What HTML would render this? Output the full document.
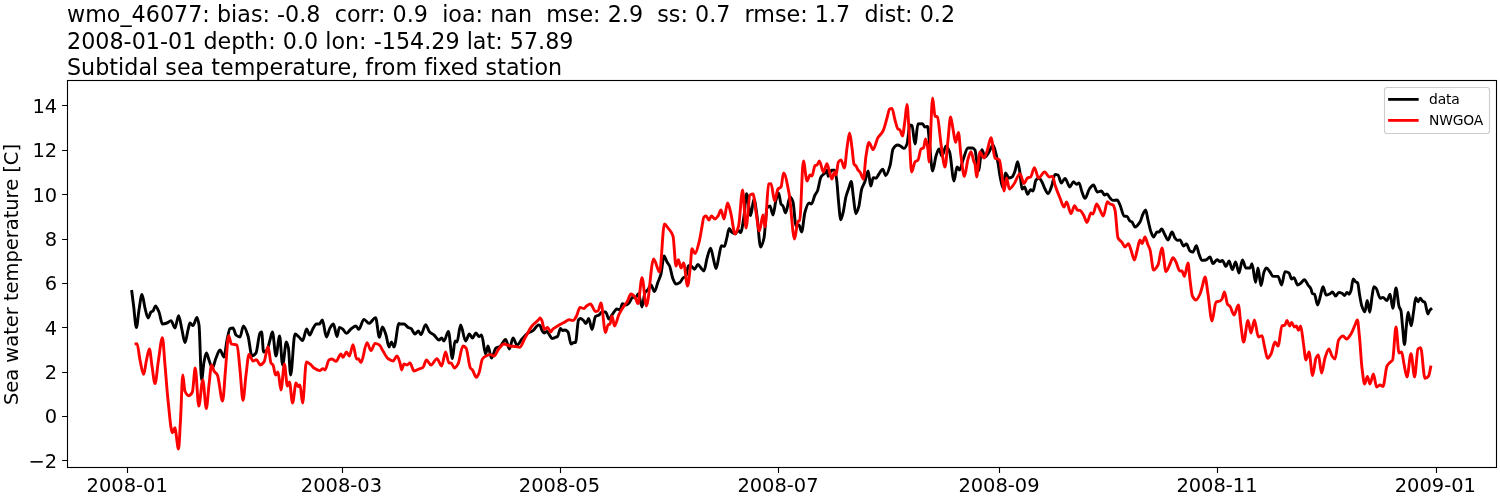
<!DOCTYPE html>
<html><head><meta charset="utf-8">
<style>
html,body{margin:0;padding:0;background:#fff;}
svg{display:block;}
text{white-space:pre;font-family:"DejaVu Sans","Liberation Sans",sans-serif;fill:#000;}
.t{font-size:22.22px;letter-spacing:0.018px;}
.k{font-size:19.44px;}
.l{font-size:13.89px;letter-spacing:-0.18px;}
</style></head><body>
<svg width="1500" height="500" viewBox="0 0 1500 500">
<rect width="1500" height="500" fill="#fff"/>
<text class="t" x="67" y="21.6">wmo_46077: bias: -0.8  corr: 0.9  ioa: nan  mse: 2.9  ss: 0.7  rmse: 1.7  dist: 0.2</text>
<text class="t" x="67" y="48.8">2008-01-01 depth: 0.0 lon: -154.29 lat: 57.89</text>
<text class="t" x="67" y="74.9">Subtidal sea temperature, from fixed station</text>
<!--CURVES--><g fill="none" stroke-width="2.9" stroke-linejoin="round" stroke-linecap="butt">
<path stroke="#000" d="M131.6 290C132.2 295 132.9 300 133.5 305C134.5 312.6 135.4 327.6 136.4 327.6C137.3 327.6 138.1 315.1 139 310C140 304.1 141 294.4 142 294.4C143 294.4 144 304.2 145 308C146 311.8 147 318 148 318C149 318 150 312.8 151 312C151.7 311.5 152.3 311.5 153 311C153.8 310.4 154.6 306 155.4 306C156.6 306 157.8 309.3 159 312C160.1 314.6 161.3 324 162.4 324C163.9 324 165.5 323.5 167 323C168.3 322.6 169.7 320.6 171 320.6C172.3 320.6 173.7 328 175 328C176.2 328 177.4 315.6 178.6 315.6C179.7 315.6 180.9 325.2 182 330C183 334.2 184 342.6 185 342.6C186 342.6 187 333.8 188 330C188.7 327.5 189.3 323 190 323C191 323 192 325.6 193 325.6C194.3 325.6 195.7 317.4 197 317.4C197.7 317.4 198.3 320.8 199 325C199.9 330.4 200.7 380 201.6 380C202.4 380 203.2 366 204 362C204.8 358 205.6 353 206.4 353C207.3 353 208.1 357.8 209 360C210.1 362.9 211.3 368 212.4 368C213.6 368 214.8 360.8 216 358C217.3 354.9 218.7 350 220 350C221.3 350 222.7 357 224 357C225 357 226 344.5 227 340C228 335.5 229 329 230 328.6C231 328.2 232 328 233 328C234 328 235 334.2 236 335C237.3 336.1 238.7 337 240 337C241.1 337 242.3 326 243.4 326C244.9 326 246.5 331.3 248 336C249.3 340.1 250.7 356 252 356C253.3 356 254.7 354.7 256 353C257.3 351.3 258.7 334.3 260 333C260.5 332.5 261.1 332 261.6 332C262.3 332 262.9 352 263.6 352C264.7 352 265.9 351.2 267 350C268 349 269 343.3 270 340C270.8 337.3 271.6 332 272.4 332C273.6 332 274.8 356 276 356C277.2 356 278.4 336 279.6 336C280.6 336 281.6 365 282.6 365C283.9 365 285.1 342 286.4 342C287.1 342 287.7 344.8 288.4 348C289.1 351.5 289.9 375 290.6 375C292.1 375 293.5 334 295 334C296.3 334 297.7 335.9 299 337C300.2 338 301.4 340.6 302.6 340.6C303.9 340.6 305.3 329 306.6 329C307.6 329 308.6 335 309.6 335C310.7 335 311.9 330.4 313 328.6C314.1 326.8 315.3 324 316.4 324C317.4 324 318.4 324 319.4 324C320.4 324 321.4 320 322.4 320C323.7 320 325.1 337 326.4 337C327.6 337 328.8 329.9 330 328C331.1 326.2 332.3 324 333.4 324C334.6 324 335.8 336.6 337 336.6C337.8 336.6 338.6 327.4 339.4 327.4C340.6 327.4 341.8 328.5 343 329.4C344.1 330.3 345.3 333.4 346.4 333.4C347.9 333.4 349.5 330.1 351 329C352.7 327.8 354.3 326 356 326C356.9 326 357.7 329.4 358.6 329.4C360.4 329.4 362.2 319.4 364 319.4C365.7 319.4 367.3 323.4 369 323.4C371.2 323.4 373.4 317.6 375.6 317.6C376.9 317.6 378.1 337.4 379.4 337.4C380.4 337.4 381.4 327 382.4 327C383.6 327 384.8 331.5 386 335C387 337.9 388 347 389 347C389.8 347 390.6 342 391.4 342C392.3 342 393.1 347 394 347C395.7 347 397.3 323.4 399 323.4C399.3 323.4 399.7 324 400 324C401.3 324 402.7 324 404 324C405.3 324 406.7 326.7 408 327.4C409 327.9 410 328 411 328.6C412.3 329.4 413.7 334 415 334C416.1 334 417.3 331 418.4 331C419.3 331 420.1 334.6 421 334.6C422.5 334.6 424.1 324.6 425.6 324.6C426.9 324.6 428.3 330.7 429.6 332C431.1 333.5 432.5 333.8 434 335C435.7 336.3 437.3 340 439 340C439.9 340 440.7 338 441.6 338C442.4 338 443.2 341 444 341C445.5 341 446.9 331.4 448.4 331.4C449.7 331.4 451.1 358.6 452.4 358.6C453.3 358.6 454.1 341 455 341C455.7 341 456.3 342 457 342C458.2 342 459.4 325 460.6 325C462.3 325 463.9 341 465.6 341C466.9 341 468.1 334 469.4 334C470.4 334 471.4 338 472.4 338C473.6 338 474.8 333 476 333C477 333 478 336.6 479 336.6C479.9 336.6 480.7 335 481.6 335C482.9 335 484.3 354 485.6 354C486.4 354 487.2 346 488 346C489.1 346 490.3 358 491.4 358C492.9 358 494.5 348.9 496 348C497.3 347.2 498.7 347.3 500 346.6C501.9 345.6 503.7 339.4 505.6 339.4C506.9 339.4 508.1 349 509.4 349C510.6 349 511.8 338 513 338C514.3 338 515.7 345 517 345C518.7 345 520.3 340.8 522 339C524 336.8 526 334.3 528 333C529.7 331.9 531.3 331.7 533 330.6C534.9 329.4 536.7 325 538.6 325C539.1 325 539.5 325.2 540 325.5C540.7 325.9 541.3 329.4 542 330.5C542.7 331.6 543.3 333 544 333C545 333 546 331.5 547 331.5C547.8 331.5 548.7 333.8 549.5 335C550.3 336.2 551.2 338.5 552 338.5C553 338.5 554 337.9 555 337.5C555.8 337.2 556.7 337.1 557.5 336.5C558.5 335.8 559.5 328.5 560.5 328.5C561.2 328.5 561.8 330.5 562.5 330.5C563.3 330.5 564.2 330 565 330C566 330 567 330.9 568 332C569 333.1 570 344 571 344C572 344 573 342.5 574 342.5C574.5 342.5 575 342.5 575.5 342.5C576.5 342.5 577.5 321.3 578.5 320C579.2 319.1 579.8 318.5 580.5 318.5C581.5 318.5 582.5 319.6 583.5 320.5C584.3 321.2 585.2 323.5 586 323.5C586.9 323.5 587.8 318.5 588.7 318.5C589.8 318.5 590.9 329.5 592 329.5C593.2 329.5 594.3 317.4 595.5 316.5C596.7 315.6 597.8 315.7 599 315C600 314.4 601 312 602 312C603.2 312 604.3 312 605.5 312C606.7 312 607.8 319 609 319C610 319 611 316.3 612 315C613.7 312.9 615.3 309 617 309C618 309 619 310 620 310C620.8 310 621.6 303.6 622.4 303.6C623.6 303.6 624.8 305 626 305C627 305 628 303.9 629 303C630.3 301.8 631.7 297 633 297C633.9 297 634.7 298 635.6 298C636.5 298 637.5 293.6 638.4 293.6C639.6 293.6 640.8 307 642 307C643 307 644 294 645 292.4C646 290.8 647 290.8 648 289.6C649 288.4 650 285 651 285C652.1 285 653.3 291.6 654.4 291.6C655.6 291.6 656.8 285.2 658 282C659 279.3 660 277.7 661 274C662 270.3 663 256 664 256C665 256 666 260.3 667 262C667.9 263.5 668.7 264.1 669.6 266C670.7 268.4 671.9 276.4 673 279C674 281.3 675 284 676 284C677.3 284 678.7 283.3 680 282.4C681 281.8 682 278.9 683 278C684 277.1 685 277.2 686 276C686.8 275 687.6 265.6 688.4 265.6C689.4 265.6 690.4 265.9 691.4 266.2C692.4 266.5 693.4 269.2 694.4 269.2C695.6 269.2 696.8 264.4 698 264.4C699 264.4 700 266.9 701 268C702 269.1 703 271 704 271C705 271 706 261.8 707 258.4C708.2 254.3 709.4 248.2 710.6 248.2C711.6 248.2 712.6 255.8 713.6 259.6C714.4 262.6 715.2 268.6 716 268.6C717 268.6 718 260.2 719 256C719.8 252.6 720.6 245.8 721.4 245.8C722.4 245.8 723.4 246.4 724.4 246.4C725.2 246.4 726 241 726.8 238C727.6 235 728.4 228.4 729.2 228.4C730 228.4 730.8 231.4 731.6 232C732.8 232.9 734 233.8 735.2 233.8C736.2 233.8 737.2 230.2 738.2 230.2C739 230.2 739.8 232.6 740.6 232.6C741.7 232.6 742.9 223.2 744 216C744.9 210.5 745.7 193.6 746.6 193.6C747.9 193.6 749.3 215.6 750.6 215.6C751.7 215.6 752.9 199 754 199C755 199 756 209.2 757 216C758.2 224.2 759.4 247 760.6 247C761.7 247 762.9 242.8 764 238C765 233.8 766 209.2 767 208C768 206.8 769 206 770 206C771 206 772 215 773 215C774 215 775 203.5 776 200C776.9 197 777.7 193 778.6 193C779.4 193 780.2 202.7 781 204C781.7 205.1 782.3 205 783 206C783.9 207.2 784.7 213 785.6 213C787.1 213 788.5 197 790 197C791 197 792 199.2 793 202C794 204.8 795 226 796 226C797 226 798 225 799 225C799.9 225 800.7 232 801.6 232C802.7 232 803.9 215.7 805 212C806.3 207.6 807.7 203 809 203C809.8 203 810.6 204 811.4 204C812.6 204 813.8 197.4 815 195C815.8 193.4 816.6 192.8 817.4 191C818.6 188.3 819.8 178.9 821 177C822.3 174.9 823.7 174.5 825 173C825.8 172.1 826.6 170 827.4 170C827.6 170 827.8 176.2 828 176.2C829.2 176.2 830.5 170.2 831.7 170.2C832.7 170.2 833.7 170.2 834.7 170.2C835.4 170.2 836 175.4 836.7 180C837.3 184.2 837.9 195.1 838.5 201C839.2 208.3 840 219.7 840.7 219.7C841.5 219.7 842.2 215.9 843 213C844 209.2 845 200.4 846 196.5C847 192.6 848 190.4 849 187.5C849.7 185.4 850.5 181.5 851.2 181.5C852 181.5 852.7 192.5 853.5 198C854.2 203.2 855 213.7 855.7 213.7C856.7 213.7 857.7 210.3 858.7 207C859.7 203.7 860.7 192.3 861.7 189C862.7 185.7 863.7 184.8 864.7 182.2C865.9 179.1 867 171 868.2 171C869 171 869.9 186 870.7 186C871.6 186 872.4 177.7 873.3 177.7C874.2 177.7 875.1 178.2 876 178.2C877 178.2 878 175.3 879 174C880.2 172.3 881.5 169.2 882.7 169.2C883.7 169.2 884.7 175.5 885.7 175.5C887.2 175.5 888.7 170.1 890.2 165C891.1 161.8 892.1 150.5 893 149C894.5 146.5 896.1 145 897.6 145C898.7 145 899.9 145.8 901 146.4C902 146.9 903 148.4 904 148.4C905 148.4 906 146.4 907 144C908 141.6 909 125 910 125C910.7 125 911.3 125.2 912 125.6C913 126.1 914 144 915 144C916 144 917 124.2 918 124C919.5 123.7 920.9 123.6 922.4 123.6C923.3 123.6 924.1 127 925 127C925.9 127 926.7 126.4 927.6 126.4C928.2 126.4 928.8 136.7 929.4 142C930.5 151.4 931.5 171 932.6 171C933.7 171 934.9 159.4 936 156C937 153 938 149 939 149C940 149 941 156 942 156C943.3 156 944.7 146 946 146C947.2 146 948.4 148.9 949.6 152C951.1 155.8 952.5 181 954 181C955 181 956 167 957 167C957.9 167 958.7 170 959.6 170C960.7 170 961.9 163 963 160C964.7 155.6 966.3 148 968 148C969.5 148 970.9 148 972.4 148C973.3 148 974.1 148.7 975 150C975.5 150.8 976.1 156.7 976.6 160C977.2 163.7 977.8 171 978.4 171C979.6 171 980.8 149.6 982 149.6C983 149.6 984 157 985 157C986.3 157 987.7 153.9 989 152C990.3 150.1 991.7 145 993 145C994 145 995 150.4 996 154C996.7 156.4 997.3 159.5 998 163C998.7 166.5 999.3 172.6 1000 176C1001 181 1002 188 1003 188C1003.8 188 1004.6 173 1005.4 173C1006.6 173 1007.8 178 1009 178C1010 178 1011 177.6 1012 177C1013 176.4 1014 173.6 1015 171C1015.9 168.8 1016.7 161.6 1017.6 161.6C1018.4 161.6 1019.2 168.2 1020 173C1020.7 177 1021.3 189 1022 189C1022.9 189 1023.7 187 1024.6 187C1025.6 187 1026.6 194.4 1027.6 194.4C1028.6 194.4 1029.6 189.6 1030.6 189.6C1031.4 189.6 1032.2 191 1033 191C1034 191 1035 181.1 1036 180C1037 178.9 1038 178 1039 178C1040 178 1041 180.3 1042 182C1043 183.7 1044 187.1 1045 189C1046 190.9 1047 193.6 1048 193.6C1049.3 193.6 1050.7 188.6 1052 185C1053 182.3 1054 174.4 1055 174.4C1056 174.4 1057 174.6 1058 175C1059.1 175.4 1060.3 183 1061.4 183C1062.6 183 1063.8 178.4 1065 178.4C1066.7 178.4 1068.3 187 1070 187C1071.1 187 1072.3 181.6 1073.4 181.6C1074.5 181.6 1075.5 184.4 1076.6 184.4C1077.4 184.4 1078.2 183 1079 183C1080 183 1081 189.5 1082 192C1083 194.5 1084 198.4 1085 198.4C1086.5 198.4 1087.9 191 1089.4 189C1090.7 187.2 1092.1 185 1093.4 185C1094.7 185 1096.1 192 1097.4 192C1098.7 192 1100.1 191 1101.4 191C1102.5 191 1103.5 195 1104.6 195C1105.4 195 1106.2 194 1107 194C1108 194 1109 197 1110 198C1111 199 1112 200.4 1113 200.4C1114.3 200.4 1115.7 200 1117 200C1118 200 1119 202.9 1120 205C1121.3 207.7 1122.7 215.7 1124 216C1125 216.2 1126 216.2 1127 216.4C1128 216.6 1129 220.3 1130 221C1130.7 221.5 1131.3 221.5 1132 222C1133 222.7 1134 227 1135 227C1136.7 227 1138.3 224.5 1140 222C1141 220.5 1142 215.9 1143 214C1143.9 212.3 1144.7 210 1145.6 210C1146.4 210 1147.2 216.7 1148 220C1149 224.1 1150 229.4 1151 232C1151.9 234.2 1152.7 237 1153.6 237C1154.7 237 1155.9 232 1157 232C1157.7 232 1158.3 232 1159 232C1159.9 232 1160.7 229 1161.6 229C1162.7 229 1163.9 233.1 1165 235C1166 236.7 1167 240 1168 240C1169.3 240 1170.7 232 1172 232C1173 232 1174 236.7 1175 238C1175.9 239.1 1176.7 240.4 1177.6 240.4C1178.4 240.4 1179.2 240 1180 240C1181.2 240 1182.4 246 1183.6 246C1184.5 246 1185.5 244 1186.4 244C1187.6 244 1188.8 250.3 1190 251C1191 251.6 1192 252 1193 252C1194.1 252 1195.3 245.6 1196.4 245.6C1197.3 245.6 1198.1 251.8 1199 254C1200 256.6 1201 260.4 1202 260.4C1203.3 260.4 1204.7 260.2 1206 260C1207.3 259.8 1208.7 257 1210 257C1211 257 1212 263.6 1213 263.6C1214.3 263.6 1215.7 259.6 1217 259.6C1218 259.6 1219 261.6 1220 261.6C1220.8 261.6 1221.6 260.4 1222.4 260.4C1223.6 260.4 1224.8 266.4 1226 266.4C1227 266.4 1228 261 1229 261C1230.1 261 1231.3 269.6 1232.4 269.6C1233.5 269.6 1234.5 262 1235.6 262C1236.7 262 1237.9 273 1239 273C1240.1 273 1241.3 260 1242.4 260C1243.6 260 1244.8 268 1246 268C1247.3 268 1248.7 268 1250 268C1250.7 268 1251.3 263.6 1252 263.6C1253.2 263.6 1254.4 282.4 1255.6 282.4C1256.4 282.4 1257.2 268 1258 268C1259 268 1260 285.6 1261 285.6C1262 285.6 1263 274.4 1264 272C1264.8 270.1 1265.6 268 1266.4 268C1267.6 268 1268.8 270.5 1270 272C1271 273.3 1272 276.4 1273 276.4C1274.7 276.4 1276.3 276.4 1278 276.4C1279.2 276.4 1280.4 285 1281.6 285C1282.7 285 1283.9 271.6 1285 271.6C1286.3 271.6 1287.7 272.1 1289 273C1289.9 273.6 1290.7 279 1291.6 279C1292.4 279 1293.2 277.6 1294 277.6C1295.2 277.6 1296.4 285 1297.6 285C1298.7 285 1299.9 283.8 1301 283C1302.1 282.2 1303.3 279.6 1304.4 279.6C1305.6 279.6 1306.8 283.3 1308 285C1309 286.4 1310 286.9 1311 289C1311.4 289.8 1311.8 293 1312.2 293.3C1313 293.9 1313.7 293.7 1314.5 294.2C1315.5 294.9 1316.6 305 1317.6 305C1318.5 305 1319.5 299.2 1320.4 296C1321.3 293 1322.1 286.6 1323 286.6C1324.1 286.6 1325.1 295.1 1326.2 295.1C1327.4 295.1 1328.6 294.4 1329.8 293.8C1330.7 293.4 1331.6 292 1332.5 292C1333.5 292 1334.6 296 1335.6 296C1336.7 296 1337.7 292.4 1338.8 292.4C1339.9 292.4 1340.9 292.8 1342 293.3C1342.9 293.7 1343.7 295.6 1344.6 295.6C1345.4 295.6 1346.1 292.4 1346.9 292.4C1347.7 292.4 1348.4 294.2 1349.2 294.2C1349.8 294.2 1350.4 292.3 1351 290.6C1351.7 288.5 1352.5 278.9 1353.2 278.9C1353.9 278.9 1354.7 281 1355.4 281.6C1356.2 282.2 1356.9 282.1 1357.7 283C1358.3 283.7 1358.9 290.8 1359.5 294.2C1360.3 298.5 1361 303.7 1361.8 305.9C1362.8 308.8 1363.9 311.8 1364.9 311.8C1365.7 311.8 1366.4 300.5 1367.2 300.5C1368.1 300.5 1368.9 312.2 1369.8 312.2C1370.6 312.2 1371.3 300.6 1372.1 296C1372.7 292.4 1373.3 286.6 1373.9 286.6C1374.7 286.6 1375.4 287.5 1376.2 288.4C1377.5 289.9 1378.9 298.2 1380.2 298.2C1381.1 298.2 1382 297.4 1382.9 297.4C1384.3 297.4 1385.6 300.5 1387 300.5C1388 300.5 1389.1 294.2 1390.1 294.2C1391 294.2 1391.9 308.2 1392.8 308.2C1393.9 308.2 1394.9 287.9 1396 287.9C1397 287.9 1398.1 303.8 1399.1 306.8C1399.7 308.5 1400.3 308.4 1400.9 310.4C1401.5 312.4 1402.1 322.7 1402.7 328.4C1403.3 334.1 1403.9 344.6 1404.5 344.6C1405.1 344.6 1405.7 331.9 1406.3 326.6C1406.9 321.3 1407.5 312.2 1408.1 312.2C1409.1 312.2 1410.2 325.7 1411.2 325.7C1412 325.7 1412.7 316.8 1413.5 312.2C1414.3 307.6 1415 297.8 1415.8 297.8C1416.5 297.8 1417.3 301.8 1418 301.8C1418.7 301.8 1419.5 298.2 1420.2 298.2C1421 298.2 1421.7 300.4 1422.5 301C1423.3 301.6 1424 301.6 1424.8 302.3C1425.8 303.3 1426.9 314 1427.9 314C1428.5 314 1429.1 311.2 1429.7 310.4C1430.5 309.4 1431.2 308.9 1432 308.2"/>
<path stroke="#f00" d="M134.6 344C135.4 343.9 136.2 343.6 137 343.6C138 343.6 139 355.4 140 360C141.2 365.6 142.4 374.4 143.6 374.4C144.6 374.4 145.5 364.2 146.5 360C147.5 355.8 148.4 349 149.4 349C150.3 349 151.1 360.6 152 366C153 372.2 154 383.6 155 383.6C156.2 383.6 157.3 367.2 158.5 360C159.8 351.9 161.1 337.6 162.4 337.6C163.3 337.6 164.1 355.4 165 365C166 376.1 167 390.8 168 400C169.5 413.5 170.9 432.8 172.4 432.8C173.2 432.8 174 427.7 174.8 427.7C176 427.7 177.3 449 178.5 449C179.2 449 179.8 431.1 180.5 420C181.3 407.3 182 375 182.8 375C183.5 375 184.2 389.4 184.9 391C186.2 393.9 187.4 395.7 188.7 395.7C189.9 395.7 191.2 394.3 192.4 392C193.3 390.3 194.3 368 195.2 368C196.4 368 197.6 406 198.8 406C200.1 406 201.5 380 202.8 380C204 380 205.1 408.5 206.3 408.5C207.2 408.5 208.1 392.3 209 385C209.9 377.9 210.7 365 211.6 365C212.4 365 213.2 369.7 214 371C215.1 372.9 216.3 372.9 217.4 375C219.1 378.2 220.9 401 222.6 401C223.6 401 224.5 380.5 225.5 370C226.5 358.7 227.6 335.6 228.6 335.6C229.5 335.6 230.5 343.7 231.4 344C233.3 344.7 235.1 344.3 237 345C238 345.4 239 360.9 240 370C241 379.1 242 400.4 243 400.4C244 400.4 245 382.6 246 375C247 367.4 248 354.4 249 354.4C250.3 354.4 251.7 361 253 361C254.2 361 255.4 359.6 256.6 359.6C257.7 359.6 258.9 365 260 365C261.3 365 262.7 363.7 264 362C265.3 360.3 266.7 346.6 268 346.6C269 346.6 270 361.4 271 363C271.7 364.1 272.3 364 273 365C273.9 366.3 274.7 375 275.6 375C276.4 375 277.2 372 278 372C279 372 280 390 281 390C282.1 390 283.3 364 284.4 364C285.4 364 286.4 386 287.4 386C288.1 386 288.7 382 289.4 382C290.5 382 291.5 403 292.6 403C293.7 403 294.9 383 296 383C296.8 383 297.6 386.6 298.4 386.6C298.9 386.6 299.5 385 300 385C300.9 385 301.7 403 302.6 403C303.9 403 305.1 362 306.4 362C307.6 362 308.8 363.1 310 364C311.3 364.9 312.7 367.1 314 368C315.9 369.2 317.7 370.6 319.6 370.6C320.7 370.6 321.9 368.6 323 368.6C323.7 368.6 324.3 370 325 370C326.3 370 327.7 360.8 329 360C330 359.4 331 359 332 359C333.3 359 334.7 361.4 336 361.4C337.7 361.4 339.3 354 341 354C341.7 354 342.3 357.4 343 357.4C344.1 357.4 345.3 352 346.4 352C347.4 352 348.4 356 349.4 356C350.6 356 351.8 344.6 353 344.6C354.2 344.6 355.4 359 356.6 359C357.2 359 357.8 358.6 358.4 358.6C359.3 358.6 360.1 362.6 361 362.6C363 362.6 365 342.6 367 342.6C368.3 342.6 369.7 350.6 371 350.6C372.3 350.6 373.7 343.4 375 343.4C376.5 343.4 377.9 344.1 379.4 345C380.6 345.7 381.8 349.1 383 351C384.7 353.7 386.3 357.4 388 358.6C389.7 359.8 391.3 361 393 361C394.3 361 395.7 356 397 356C398 356 399 359.9 400 363C400.5 364.7 401.1 370 401.6 370C402.4 370 403.2 364 404 364C405 364 406 365 407 365C408 365 409 363 410 363C411.3 363 412.7 371 414 371C415.7 371 417.3 369.7 419 369C420.3 368.5 421.7 368.3 423 367.4C424.1 366.6 425.3 360 426.4 360C427.9 360 429.5 365 431 365C433 365 435 358.6 437 358.6C438.5 358.6 440.1 366 441.6 366C442.9 366 444.3 352 445.6 352C446.7 352 447.9 363 449 363C449.7 363 450.3 363 451 363C452.1 363 453.3 368 454.4 368C455.6 368 456.8 366 458 364C459.7 361.2 461.3 346 463 346C464 346 465 346.9 466 348C467.5 349.6 468.9 365.8 470.4 368C471.1 369 471.7 369.2 472.4 370C473.7 371.7 475.1 377.4 476.4 377.4C477.3 377.4 478.1 375 479 373C480.1 370.3 481.3 360.6 482.4 359C483.6 357.3 484.8 356.6 486 356C487.3 355.3 488.7 354.6 490 354.6C491.5 354.6 492.9 356 494.4 356C495.6 356 496.8 351.5 498 350C500 347.4 502 344 504 344C506 344 508 345.7 510 346C512 346.3 514 346.3 516 346.6C517.2 346.8 518.4 347.4 519.6 347.4C521.4 347.4 523.2 341.1 525 338C527.3 334 529.7 328.9 532 326C534.5 322.8 537.1 321.8 539.6 318.6C539.7 318.4 539.9 318 540 318C540.5 318 541 318.8 541.5 319.5C542.5 321 543.5 329.5 544.5 329.5C545.5 329.5 546.5 327.5 547.5 327.5C548.6 327.5 549.7 332 550.8 332C551.5 332 552.3 329.4 553 328.8C554 328 555 327.7 556 327.1C557.3 326.3 558.7 325.4 560 324.6C561.3 323.8 562.7 323.2 564 322.5C565.7 321.6 567.5 319.8 569.2 319.8C570.4 319.8 571.6 320.6 572.8 320.6C573.5 320.6 574.3 319.5 575 318.6C575.5 318 576 317 576.5 316C577.7 313.7 578.8 307.5 580 307.5C581.3 307.5 582.7 308.5 584 308.5C584.8 308.5 585.7 306.6 586.5 306C587.8 305.1 589.2 304 590.5 304C592.2 304 593.8 311.5 595.5 311.5C596.3 311.5 597.2 311.3 598 311C599 310.6 600 303 601 303C602.5 303 604 332.5 605.5 332.5C606.3 332.5 607.2 325.7 608 325C608.7 324.4 609.3 324.6 610 324C610.7 323.4 611.3 316 612 316C612.8 316 613.7 326 614.5 326C616 326 617.5 317.5 619 314.4C620.7 311 622.3 308.5 624 306C625 304.5 626 303.6 627 302C628.3 299.9 629.7 294 631 294C632.3 294 633.7 295.5 635 297C636 298.1 637 303.6 638 303.6C639.3 303.6 640.7 277.6 642 277.6C643.5 277.6 644.9 306 646.4 306C648.8 306 651.2 259 653.6 259C655.6 259 657.6 272 659.6 272C661.2 272 662.8 224 664.4 224C665.6 224 666.8 226.4 668 228C669.7 230.2 671.3 231.1 673 236C674 238.9 675 266 676 266C676.8 266 677.6 259.6 678.4 259.6C679.3 259.6 680.1 268 681 268C681.9 268 682.7 263 683.6 263C684.9 263 686.3 286 687.6 286C688.5 286 689.3 275.4 690.2 268C690.8 262.9 691.4 248.8 692 248.8C693 248.8 694 253.6 695 253.6C696.4 253.6 697.8 247 699.2 241.6C699.9 238.8 700.7 233.8 701.4 230C702.3 225.5 703.1 217.8 704 217C704.7 216.4 705.3 216 706 216C707 216 708 220 709 220C709.8 220 710.6 216 711.4 216C712.6 216 713.8 219 715 219C716 219 717 217.3 718 216C719 214.7 720 210 721 210C722 210 723 219 724 219C725.2 219 726.4 203 727.6 203C728.7 203 729.9 209.6 731 214C732.3 219.2 733.7 234 735 234C736.2 234 737.4 230.2 738.6 226C739.9 221.3 741.3 190 742.6 190C743.7 190 744.9 228 746 228C747.3 228 748.7 195.8 750 195C751 194.4 752 194 753 194C754 194 755 206.2 756 212C757.1 218.6 758.3 231 759.4 231C760.6 231 761.8 215 763 215C763.7 215 764.3 227 765 227C766.2 227 767.4 184.4 768.6 184C769.4 183.8 770.2 183.6 771 183.6C772.2 183.6 773.4 201 774.6 201C775.7 201 776.9 190.3 778 189C779 187.9 780 188.2 781 187C781.9 186 782.7 173 783.6 173C785.4 173 787.2 183.8 789 193C790.9 202.5 792.7 239 794.6 239C795.7 239 796.9 221 798 221C798.5 221 799.1 221 799.6 221C800.9 221 802.1 161 803.4 161C804.6 161 805.8 181 807 181C808 181 809 175 810 175C810.7 175 811.3 176 812 176C813 176 814 166.1 815 165.6C815.7 165.3 816.3 165.3 817 165C817.8 164.6 818.6 161 819.4 161C820.7 161 822.1 172 823.4 172C824.6 172 825.8 163.6 827 163.6C828 163.6 829 171.1 830 174C830.7 175.9 831.3 179 832 179C832.8 179 833.6 172 834.4 172C834.9 172 835.5 175 836 175C836.8 175 837.6 163.1 838.4 162C839.3 160.8 840.1 160 841 160C842.1 160 843.3 168 844.4 168C845.3 168 846.1 153.7 847 148C847.9 142.3 848.7 133 849.6 133C850.4 133 851.2 142.4 852 148C852.7 152.7 853.3 162.8 854 164C854.7 165.2 855.3 165.1 856 166C856.7 166.9 857.3 169.1 858 170C858.7 170.9 859.3 171.1 860 172C861.1 173.5 862.3 179 863.4 179C864.3 179 865.1 161.2 866 156C867 150 868 142.4 869 142.4C870.3 142.4 871.7 149.6 873 149.6C874.7 149.6 876.3 140.4 878 137.6C879.7 134.8 881.3 134.2 883 131C884.3 128.5 885.7 122.5 887 118C887.9 115.1 888.7 109.4 889.6 109C890.4 108.6 891.2 108.4 892 108.4C893 108.4 894 116.6 895 120C896 123.4 897 128.2 898 129C898.7 129.5 899.3 129.5 900 130C900.8 130.7 901.6 136 902.4 136C903.3 136 904.1 126 905 120C905.7 115.4 906.3 104.4 907 104.4C907.7 104.4 908.3 120.5 909 130C909.9 142.3 910.7 172 911.6 172C912.7 172 913.9 163.2 915 162C916 160.9 917 161.1 918 160C919 158.9 920 149.9 921 149C921.9 148.2 922.7 148.5 923.6 147.6C924.3 146.9 924.9 139 925.6 139C926.4 139 927.2 144.3 928 150C928.3 152.4 928.7 162 929 162C930.2 162 931.4 98 932.6 98C933.4 98 934.2 115.4 935 116C935.8 116.6 936.6 116.4 937.4 117C938.6 117.9 939.8 136.2 941 144C942.3 152.7 943.7 167 945 167C946 167 947 148.9 948 140C948.9 132.3 949.7 117 950.6 117C951.4 117 952.2 124.9 953 129C953.9 133.4 954.7 142.4 955.6 142.4C956.5 142.4 957.5 132.4 958.4 132.4C959.3 132.4 960.1 149.7 961 156C962.1 164.3 963.3 176.4 964.4 176.4C965.6 176.4 966.8 162.9 968 159C969 155.8 970 151.6 971 151.6C972 151.6 973 159.6 974 162C974.3 162.8 974.7 163 975 164C975.5 165.6 976.1 177 976.6 177C977.7 177 978.9 152 980 152C981.3 152 982.7 158 984 158C985.1 158 986.3 153.2 987.4 150C988.6 146.7 989.8 137.6 991 137.6C992.3 137.6 993.7 156.9 995 158C996.5 159.2 997.9 158.7 999.4 160C1000.3 160.8 1001.1 170.1 1002 176C1002.7 180.5 1003.3 191 1004 191C1004.9 191 1005.7 178 1006.6 178C1007.5 178 1008.5 189 1009.4 189C1010.9 189 1012.5 186 1014 184C1016 181.4 1018 173.6 1020 173.6C1021.3 173.6 1022.7 183.6 1024 183.6C1025.1 183.6 1026.3 178.6 1027.4 178C1028.5 177.4 1029.5 177.6 1030.6 177C1031.9 176.3 1033.1 167.6 1034.4 167.6C1035.8 167.6 1037.2 178 1038.6 178C1040.6 178 1042.6 172 1044.6 172C1046.2 172 1047.8 177 1049.4 177C1050.5 177 1051.5 176.4 1052.6 176.4C1053.4 176.4 1054.2 182.5 1055 185C1056.7 190.1 1058.3 194 1060 198C1061.3 201.2 1062.7 207 1064 207C1064.9 207 1065.7 202 1066.6 202C1068.1 202 1069.5 213.6 1071 213.6C1072.2 213.6 1073.4 205.6 1074.6 205.6C1075.5 205.6 1076.5 209.7 1077.4 210C1078.3 210.2 1079.1 210.2 1080 210.4C1081.3 210.7 1082.7 213.7 1084 216C1085 217.7 1086 222.4 1087 222.4C1088.3 222.4 1089.7 213 1091 213C1091.7 213 1092.3 214 1093 214C1094.2 214 1095.4 204 1096.6 204C1097.7 204 1098.9 208 1100 210C1101.1 212 1102.3 216 1103.4 216C1104.7 216 1106.1 201.6 1107.4 201.6C1108.3 201.6 1109.1 203.6 1110 204C1111 204.5 1112 204.4 1113 205C1113.7 205.4 1114.3 207.5 1115 210C1116 213.8 1117 236 1118 238C1119.3 240.7 1120.7 240.7 1122 242.4C1123 243.7 1124 247 1125 247C1126.1 247 1127.3 243.6 1128.4 243.6C1129.3 243.6 1130.1 247.7 1131 250C1132.1 253 1133.3 260 1134.4 260C1135.3 260 1136.1 254.1 1137 251C1138 247.4 1139 240 1140 240C1140.7 240 1141.3 243.6 1142 243.6C1143 243.6 1144 237 1145 237C1146 237 1147 242.5 1148 245C1148.7 246.6 1149.3 247.5 1150 249.6C1151.2 253.4 1152.4 270 1153.6 270C1155.1 270 1156.5 267.7 1158 265C1159.3 262.6 1160.7 248 1162 248C1163.3 248 1164.7 271.6 1166 271.6C1167.3 271.6 1168.7 266.7 1170 264C1171 262 1172 257.6 1173 257.6C1174 257.6 1175 260.1 1176 262C1177 263.9 1178 268.6 1179 270C1179.3 270.5 1179.7 271 1180 271C1180.7 271 1181.3 271 1182 271C1182.8 271 1183.6 276.4 1184.4 276.4C1185.6 276.4 1186.8 263 1188 263C1188.7 263 1189.3 275 1190 280C1190.8 286 1191.6 294.4 1192.4 296C1193.6 298.4 1194.8 300 1196 300C1197.3 300 1198.7 296.8 1200 294C1200.8 292.3 1201.6 288.7 1202.4 286C1203.3 283.1 1204.1 277 1205 277C1206 277 1207 287.9 1208 294C1209.3 302.2 1210.7 321 1212 321C1213.3 321 1214.7 302.6 1216 302C1217.3 301.4 1218.7 301.6 1220 301C1220.7 300.7 1221.3 300 1222 299C1222.8 297.8 1223.6 292 1224.4 292C1225.5 292 1226.5 303 1227.6 304.4C1228.4 305.5 1229.2 305.5 1230 306.4C1231.3 307.9 1232.7 315 1234 315C1235.5 315 1236.9 305 1238.4 305C1239.3 305 1240.1 319.9 1241 326C1241.9 332.1 1242.7 342 1243.6 342C1245.1 342 1246.5 320.4 1248 320.4C1249 320.4 1250 333 1251 333C1252.1 333 1253.3 320 1254.4 320C1255.7 320 1257.1 337 1258.4 337C1259.6 337 1260.8 335.6 1262 335.6C1262.8 335.6 1263.6 342.7 1264.4 346C1265.5 350.4 1266.5 358.4 1267.6 358.4C1268.7 358.4 1269.9 356 1271 354C1272.3 351.6 1273.7 342 1275 342C1276 342 1277 346 1278 346C1279.3 346 1280.7 326.8 1282 326C1283 325.4 1284 325.6 1285 325C1285.7 324.6 1286.3 320.4 1287 320.4C1287.9 320.4 1288.7 326 1289.6 326C1290.3 326 1290.9 322.4 1291.6 322.4C1292.5 322.4 1293.5 327 1294.4 327C1295.1 327 1295.7 326 1296.4 326C1297.1 326 1297.7 330.4 1298.4 330.4C1299.1 330.4 1299.9 326 1300.6 326C1301.4 326 1302.2 334.6 1303 340C1303.1 340.9 1303.3 342.1 1303.4 343C1304.3 349.2 1305.1 360 1306 360C1307 360 1308 352 1309 352C1310.2 352 1311.4 375.6 1312.6 375.6C1313.7 375.6 1314.9 360.2 1316 358C1316.8 356.4 1317.6 355 1318.4 355C1319.5 355 1320.5 373 1321.6 373C1322.7 373 1323.9 361.4 1325 358C1326.3 354 1327.7 349 1329 349C1330 349 1331 354.6 1332 356C1333 357.4 1334 359 1335 359C1336.2 359 1337.4 341.9 1338.6 340C1340.1 337.7 1341.5 336 1343 336C1344.2 336 1345.4 339 1346.6 339C1348.1 339 1349.5 336.2 1351 334C1352.3 332 1353.7 327.9 1355 325C1355.8 323.3 1356.6 320 1357.4 320C1358.1 320 1358.7 329.6 1359.4 336C1360.3 344.3 1361.1 360.9 1362 368C1362.9 375.1 1363.7 384 1364.6 384C1365.5 384 1366.5 376.4 1367.4 376.4C1368.3 376.4 1369.1 384 1370 384C1371.1 384 1372.3 374 1373.4 374C1374.5 374 1375.5 387 1376.6 387C1377.7 387 1378.9 385 1380 385C1381 385 1382 386.4 1383 386.4C1384.3 386.4 1385.7 368.5 1387 366C1388 364.1 1389 363.4 1390 362.4C1390.9 361.5 1391.7 361.4 1392.6 360C1393.7 358.2 1394.9 327 1396 327C1397 327 1398 353 1399 353C1399.9 353 1400.7 352 1401.6 352C1402.4 352 1403.2 360.3 1404 364C1405 368.7 1406 377 1407 377C1408.3 377 1409.7 353.6 1411 353.6C1412.2 353.6 1413.4 377 1414.6 377C1415.7 377 1416.9 350.1 1418 349C1418.9 348.2 1419.7 347.6 1420.6 347.6C1422.1 347.6 1423.5 378.4 1425 378.4C1426.2 378.4 1427.4 377.5 1428.6 376C1429.4 375 1430.2 369.1 1431 365.6"/>
</g><!--/CURVES-->
<rect x="67.5" y="80.5" width="1429" height="387" fill="none" stroke="#000" stroke-width="1.11"/>
<g stroke="#000" stroke-width="1.11">
<path d="M127.5 467.5v5.4M342.5 467.5v5.4M560.5 467.5v5.4M778.5 467.5v5.4M999.5 467.5v5.4M1217.5 467.5v5.4M1436.5 467.5v5.4"/>
<path d="M67.5 105.5h-5.4M67.5 150.5h-5.4M67.5 194.5h-5.4M67.5 239.5h-5.4M67.5 283.5h-5.4M67.5 327.5h-5.4M67.5 372.5h-5.4M67.5 416.5h-5.4M67.5 460.5h-5.4"/>
</g>
<g class="k" text-anchor="middle">
<text x="127.2" y="491.6">2008-01</text><text x="341.4" y="491.6">2008-03</text><text x="559.4" y="491.6">2008-05</text><text x="778.0" y="491.6">2008-07</text><text x="999.0" y="491.6">2008-09</text><text x="1217.0" y="491.6">2008-11</text><text x="1435.3" y="491.6">2009-01</text>
</g>
<g class="k" text-anchor="end">
<text x="57.2" y="112.7">14</text><text x="57.2" y="157.1">12</text><text x="57.2" y="201.5">10</text><text x="57.2" y="245.9">8</text><text x="57.2" y="290.2">6</text><text x="57.2" y="334.6">4</text><text x="57.2" y="379">2</text><text x="57.2" y="423.4">0</text><text x="57.2" y="467.8">−2</text>
</g>
<text class="k" text-anchor="middle" transform="translate(18.4 274.5) rotate(-90)">Sea water temperature [C]</text>
<rect x="1384.5" y="87.5" width="105" height="46" rx="2.8" fill="#fff" fill-opacity="0.8" stroke="#ccc" stroke-width="1.11"/>
<path d="M1389.5 99.4h27.8" stroke="#000" stroke-width="2.78" stroke-linecap="square"/>
<path d="M1389.5 120.4h27.8" stroke="#f00" stroke-width="2.78" stroke-linecap="square"/>
<text class="l" x="1429" y="104">data</text>
<text class="l" x="1429" y="125">NWGOA</text>
</svg>
</body></html>
